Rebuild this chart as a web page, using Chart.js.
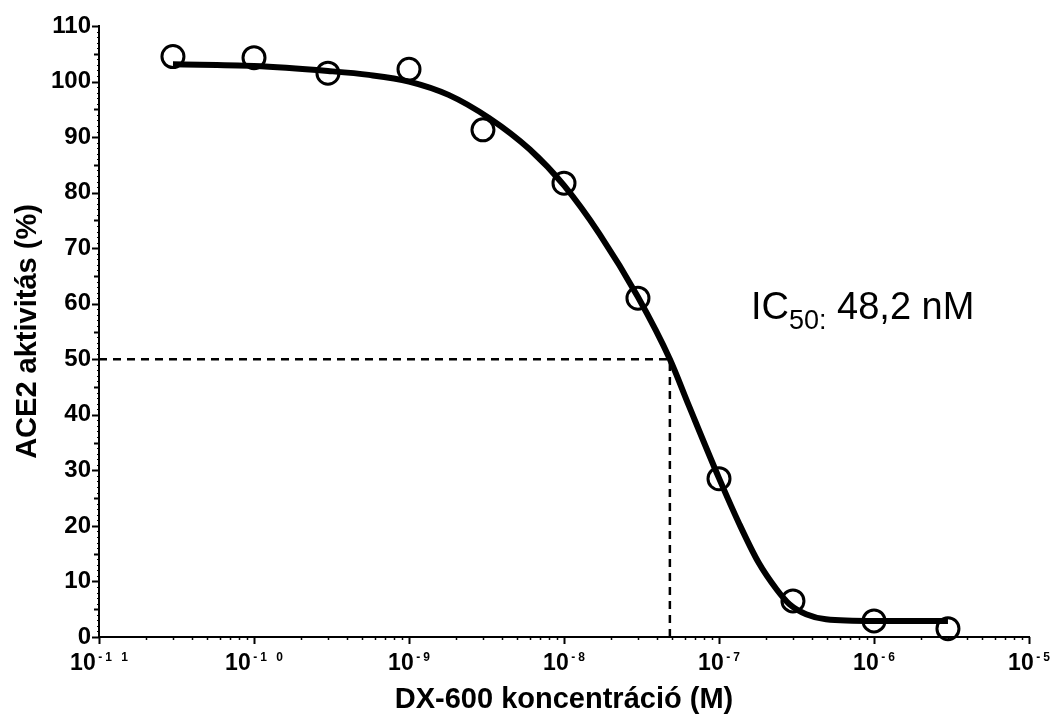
<!DOCTYPE html>
<html>
<head>
<meta charset="utf-8">
<script src="https://cdn.jsdelivr.net/npm/chart.js@4.4.1/dist/chart.umd.min.js"></script>
<style>
    html, body { margin: 0; padding: 0; background: #fff; }
    #wrap { width: 1061px; height: 714px; }
</style>
</head>
<body>
<div id="wrap"><canvas id="ic50Chart"></canvas></div>
<script>
// Measured points (ACE2 activity, %)
const concentrations = [3e-11, 1e-10, 3e-10, 1e-9, 3e-9, 1e-8, 3e-8, 1e-7, 3e-7, 1e-6, 3e-6];
const activity = [104.5, 104.3, 101.5, 102.2, 91.3, 81.7, 61.0, 28.5, 6.5, 2.9, 1.5];

// Fitted curve
const fitConc = [3e-11, 1e-10, 3e-10, 5.5e-10, 1e-9, 1.8e-9, 3.3e-9, 6e-9, 1e-8, 1.7e-8, 3e-8,
                 4.82e-8, 6.4e-8, 1e-7, 1.35e-7, 1.8e-7, 2.35e-7, 2.85e-7, 3.65e-7, 4.9e-7, 1e-6, 3e-6];
const fitActivity = [103.1, 102.8, 101.9, 101.2, 100.0, 97.6, 93.4, 87.8, 81.3, 72.5, 61.2,
                     50.0, 41.6, 28.6, 20.4, 13.4, 8.6, 5.9, 4.1, 3.2, 2.9, 2.9];

const ic50 = 4.82e-8;
const halfActivity = 50;

// Axis ticks
const xDecades = [-11, -10, -9, -8, -7, -6, -5];
const xTickExponents = ['-1 1', '-1 0', '-9', '-8', '-7', '-6', '-5'];
const yTickValues = [0, 10, 20, 30, 40, 50, 60, 70, 80, 90, 100, 110];

const FONT = '"Liberation Sans", Arial, sans-serif';

// Tick marks, x tick labels and the IC50 note
const axisDecor = {
    id: 'axisDecor',
    afterDraw(chart) {
        const ctx = chart.ctx;
        const xs = chart.scales.x;
        const ys = chart.scales.y;
        const area = chart.chartArea;
        ctx.save();
        ctx.strokeStyle = '#000';

        // y ticks: major every 10, minor every 5, tiny every 1
        for (let v = 0; v <= 110; v++) {
            const y = Math.round(ys.getPixelForValue(v)) + 0.5;
            const len = v % 10 === 0 ? 7 : (v % 5 === 0 ? 5 : 2);
            ctx.lineWidth = v % 5 === 0 ? 2 : 1;
            ctx.beginPath();
            ctx.moveTo(area.left - len, y);
            ctx.lineTo(area.left, y);
            ctx.stroke();
        }

        // x ticks: decades + log minors
        xDecades.forEach((d, i) => {
            const steps = i === xDecades.length - 1 ? 1 : 9;
            for (let m = 1; m <= steps; m++) {
                const x = Math.round(xs.getPixelForValue(m * Math.pow(10, d))) + 0.5;
                const len = m === 1 ? 7 : 3;
                ctx.lineWidth = m === 1 ? 2 : 1.5;
                ctx.beginPath();
                ctx.moveTo(x, area.bottom);
                ctx.lineTo(x, area.bottom + len);
                ctx.stroke();
            }
        });

        // x tick labels: 10 with raised exponent
        ctx.fillStyle = '#000';
        ctx.textBaseline = 'alphabetic';
        ctx.textAlign = 'left';
        xDecades.forEach((d, i) => {
            const x = xs.getPixelForValue(Math.pow(10, d));
            ctx.font = 'bold 23px ' + FONT;
            const baseW = ctx.measureText('10').width;
            ctx.font = 'bold 12px ' + FONT;
            const chars = xTickExponents[i].split('');
            const gap = 3;
            let expW = 0;
            chars.forEach(c => { expW += ctx.measureText(c).width; });
            expW += gap * (chars.length - 1);
            const total = baseW + 2.5 + expW;
            let cx = x - total / 2;
            ctx.font = 'bold 23px ' + FONT;
            ctx.fillText('10', cx, 669.5);
            cx += baseW + 2.5;
            ctx.font = 'bold 12px ' + FONT;
            chars.forEach(c => {
                ctx.fillText(c, cx, 661);
                cx += ctx.measureText(c).width + gap;
            });
        });

        // IC50 annotation
        let tx = 751;
        ctx.font = '38px ' + FONT;
        ctx.fillText('IC', tx, 319);
        tx += ctx.measureText('IC').width;
        ctx.font = '27px ' + FONT;
        ctx.fillText('50:', tx, 328.5);
        tx += ctx.measureText('50:').width;
        ctx.font = '38px ' + FONT;
        ctx.fillText(' 48,2 nM', tx, 319);

        ctx.restore();
    }
};

const canvas = document.getElementById('ic50Chart');

new Chart(canvas.getContext('2d'), {
    type: 'scatter',
    data: {
        datasets: [
            {
                label: 'Mért',
                data: concentrations.map((c, i) => ({ x: c, y: activity[i] })),
                showLine: false,
                pointRadius: 11,
                pointHoverRadius: 11,
                pointBorderWidth: 3,
                pointBorderColor: '#000',
                pointBackgroundColor: 'rgba(0,0,0,0)',
                clip: false,
                order: 0
            },
            {
                label: 'Illesztés',
                data: fitConc.map((c, i) => ({ x: c, y: fitActivity[i] })),
                showLine: true,
                borderColor: '#000',
                borderWidth: 6,
                pointRadius: 0,
                cubicInterpolationMode: 'monotone',
                order: 1
            },
            {
                label: 'IC50 vízszintes',
                data: [{ x: 1e-11, y: halfActivity }, { x: ic50, y: halfActivity }],
                showLine: true,
                borderColor: '#000',
                borderWidth: 2.5,
                borderDash: [8, 6],
                pointRadius: 0,
                order: 2
            },
            {
                label: 'IC50 függőleges',
                data: [{ x: ic50, y: 0 }, { x: ic50, y: halfActivity }],
                showLine: true,
                borderColor: '#000',
                borderWidth: 2.5,
                borderDash: [8, 6],
                pointRadius: 0,
                order: 2
            }
        ]
    },
    options: {
        responsive: true,
        maintainAspectRatio: false,
        animation: false,
        layout: { padding: { top: 26, right: 32, left: 0, bottom: 0 } },
        plugins: {
            legend: { display: false },
            tooltip: { enabled: false }
        },
        scales: {
            x: {
                type: 'logarithmic',
                min: 1e-11,
                max: 1e-5,
                grid: { display: false, drawTicks: false },
                border: { display: true, color: '#000', width: 2 },
                ticks: { display: false },
                title: {
                    display: true,
                    text: 'DX-600 koncentráció (M)',
                    color: '#000',
                    font: { family: FONT, size: 29, weight: 'bold', lineHeight: 1 },
                    padding: { top: 0, bottom: 0 }
                },
                afterFit: s => { s.height = 77; }
            },
            y: {
                min: 0,
                max: 110,
                afterBuildTicks: s => { s.ticks = yTickValues.map(v => ({ value: v })); },
                grid: { display: false, drawTicks: false },
                border: { display: true, color: '#000', width: 2 },
                ticks: {
                    color: '#000',
                    padding: 8,
                    font: { family: FONT, size: 24, weight: 'bold' }
                },
                title: {
                    display: true,
                    text: 'ACE2 aktivitás (%)',
                    color: '#000',
                    font: { family: FONT, size: 29, weight: 'bold', lineHeight: 1 },
                    padding: { top: 13.5, bottom: 0 }
                },
                afterFit: s => { s.width = 99; }
            }
        }
    },
    plugins: [axisDecor]
});
</script>
</body>
</html>
